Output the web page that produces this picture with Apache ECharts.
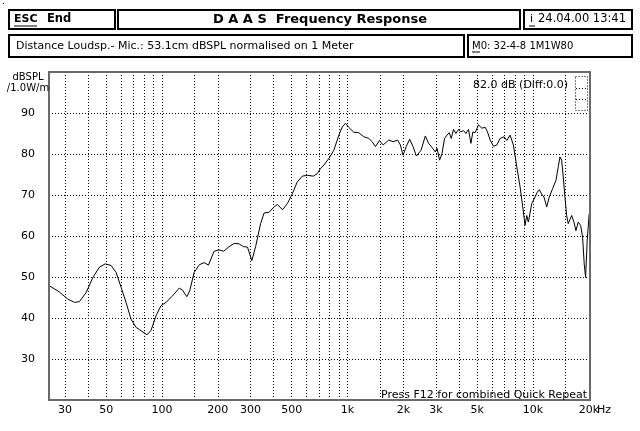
<!DOCTYPE html>
<html>
<head>
<meta charset="utf-8">
<script src="https://cdn.jsdelivr.net/npm/echarts@6/dist/echarts.min.js"></script>
<style>
html, body { margin: 0; padding: 0; background: #fff; }
#chart { width: 640px; height: 431px; }
</style>
</head>
<body>
<div id="chart"></div>
<script>
// frequency response: Hz and dBSPL
var freqs = [24.8, 27.5, 31.1, 33.8, 35.9, 39.0, 42.4, 46.0, 49.4, 53.2,
  56.6, 60.2, 64.0, 68.1, 72.5, 77.1, 83.0, 87.3, 92.8, 98.8,
  105, 114, 124, 129, 136, 141, 149, 159, 169, 178,
  191, 203, 215, 230, 245, 260, 275, 289, 305, 320,
  340, 355, 378, 402, 419, 446, 474, 504, 536, 571,
  607, 654, 687, 716, 746, 793, 844, 898, 937, 976,
  1016, 1081, 1150, 1223, 1302, 1358, 1414, 1486, 1556, 1667,
  1761, 1864, 1927, 1993, 2076, 2163, 2256, 2350, 2490, 2627,
  2736, 2854, 2973, 3037, 3136, 3230, 3336, 3436, 3535, 3623,
  3728, 3841, 3967, 4086, 4220, 4347, 4490, 4625, 4740, 4878,
  5080, 5300, 5521, 5681, 5874, 6119, 6380, 6646, 6984, 7221,
  7522, 7836, 8173, 8514, 8803, 9058, 9250, 9435, 9637, 9840,
  10251, 10546, 10812, 11139, 11459, 11850, 12236, 12763, 13296, 13677,
  13970, 14266, 14552, 14860, 15178, 15482, 16148, 16613, 17031, 17521,
  18053, 18504, 18874, 19203, 19587, 20080];
var levels = [47.8, 46.6, 44.6, 43.8, 44.0, 46.2, 49.9, 52.4, 53.2, 52.8,
  51.1, 47.5, 43.8, 39.7, 37.7, 36.9, 35.9, 37.0, 40.5, 43.0,
  43.8, 45.4, 47.3, 46.8, 45.2, 46.6, 51.1, 53.0, 53.5, 52.9,
  56.3, 56.6, 56.3, 57.4, 58.2, 58.1, 57.4, 57.3, 54.0, 57.5,
  63.0, 65.6, 65.8, 67.1, 67.7, 66.4, 67.9, 70.3, 73.2, 74.6,
  74.8, 74.6, 75.2, 76.5, 77.3, 78.9, 80.9, 84.6, 86.6, 87.5,
  86.5, 85.3, 85.2, 84.2, 83.8, 83.0, 81.8, 83.3, 82.2, 83.4,
  83.0, 83.4, 82.2, 79.7, 81.9, 83.6, 81.8, 79.5, 80.9, 84.4,
  82.6, 81.6, 80.5, 81.4, 78.5, 80.1, 83.8, 84.6, 85.2, 83.8,
  86.0, 85.0, 86.0, 85.4, 85.7, 85.0, 86.0, 82.6, 85.4, 85.2,
  87.1, 86.3, 86.5, 85.4, 83.4, 81.9, 82.2, 83.8, 84.2, 83.3,
  84.6, 82.2, 76.9, 72.0, 67.1, 62.6, 65.0, 63.4, 65.6, 67.9,
  69.5, 70.7, 71.3, 70.2, 69.5, 67.1, 69.5, 71.6, 73.6, 76.9,
  79.3, 78.5, 74.4, 69.5, 65.0, 63.0, 65.0, 63.4, 61.3, 63.4,
  62.6, 59.7, 53.2, 49.9, 58.9, 65.4];

// dotted grid positions and tick labels
var gridFreqs = [30, 40, 50, 60, 70, 80, 90, 100, 150, 200, 300, 400, 500, 600, 700, 800, 900,
  1000, 1500, 2000, 3000, 4000, 5000, 6000, 7000, 8000, 9000, 10000, 15000];
var labelFreqs = [30, 50, 100, 200, 300, 500, 1000, 2000, 3000, 5000, 10000, 20000];
var labelTexts = ['30', '50', '100', '200', '300', '500', '1k', '2k', '3k', '5k', '10k', '20k'];
var levelTicks = [30, 40, 50, 60, 70, 80, 90];

var FONT = "'DejaVu Sans', sans-serif";

var chart = echarts.init(document.getElementById('chart'));

var lg = function (f) { return Math.log10(f); };
var points = freqs.map(function (f, i) { return [lg(f), levels[i]]; });

function txt(x, y, s, font, align) {
  return {
    type: 'text', z: 110,
    style: { x: x, y: y, text: s, font: font || ('10px ' + FONT), fill: '#000',
      textAlign: align || 'left', textVerticalAlign: 'middle' }
  };
}
function box(x, y, w, h) {
  return { type: 'rect', z: 100, shape: { x: x, y: y, width: w, height: h },
    style: { fill: 'none', stroke: '#000', lineWidth: 2 } };
}
function hline(x1, x2, y, dash) {
  return { type: 'line', z: 110, shape: { x1: x1, y1: y, x2: x2, y2: y },
    style: { stroke: '#000', lineWidth: 1, lineDash: dash || null } };
}

chart.setOption({
  backgroundColor: '#fff',
  animation: false,
  grid: { left: 49, top: 72, width: 541, height: 328, containLabel: false },
  xAxis: {
    type: 'value',
    min: lg(24.6),
    max: lg(20280),
    axisLine: { show: false },
    axisTick: { show: false, customValues: gridFreqs.map(lg) },
    axisLabel: {
      customValues: labelFreqs.map(lg),
      margin: 5,
      color: '#000',
      fontSize: 11,
      fontFamily: FONT,
      formatter: function (v) {
        for (var i = 0; i < labelFreqs.length; i++) {
          if (Math.abs(lg(labelFreqs[i]) - v) < 1e-6) return labelTexts[i];
        }
        return '';
      }
    },
    splitLine: { show: true, lineStyle: { color: '#000', width: 1, type: [1, 2] } }
  },
  yAxis: {
    type: 'value',
    min: 20,
    max: 100,
    interval: 10,
    axisLine: { show: false },
    axisTick: { show: false, customValues: levelTicks },
    axisLabel: { customValues: levelTicks, margin: 14, color: '#000', fontSize: 11, fontFamily: FONT },
    splitLine: { show: true, lineStyle: { color: '#000', width: 1, type: [1, 2] } }
  },
  series: [{
    type: 'line',
    data: points,
    showSymbol: false,
    lineStyle: { color: '#000', width: 1 },
    z: 5
  }],
  graphic: [
    // header boxes
    box(9, 10, 106, 19),
    box(118, 10, 402, 19),
    box(524, 10, 108, 19),
    box(9, 35, 455, 22),
    box(468, 35, 164, 22),
    txt(14, 19.5, 'ESC', 'bold 11px ' + FONT),
    hline(14, 37, 26),
    txt(47, 19.5, 'End', 'bold 11.5px ' + FONT),
    txt(320, 19.5, 'D A A S  Frequency Response', 'bold 13px ' + FONT, 'center'),
    txt(530, 19.5, 'i', '11px ' + FONT),
    hline(529, 535, 26),
    txt(538, 19.5, '24.04.00 13:41', '11.5px ' + FONT),
    txt(16, 46, 'Distance Loudsp.- Mic.: 53.1cm dBSPL normalised on 1 Meter', '11px ' + FONT),
    txt(472, 46, 'M0: 32-4-8 1M1W80', '10px ' + FONT),
    hline(472, 480, 52),
    // axis captions and notes
    txt(28, 77, 'dBSPL', '10px ' + FONT, 'center'),
    txt(28, 88, '/1.0W/m', '10px ' + FONT, 'center'),
    txt(568, 85, '82.0 dB (Diff:0.0)', '11px ' + FONT, 'right'),
    txt(587, 395, 'Press F12 for combined Quick Repeat', '11px ' + FONT, 'right'),
    txt(597, 410, 'Hz', '11px ' + FONT),
    // small dotted indicator at top right
    { type: 'rect', z: 100, shape: { x: 575.5, y: 76.5, width: 12, height: 34 },
      style: { fill: 'none', stroke: '#000', lineWidth: 1, lineDash: [1, 2] } },
    hline(576, 588, 88.5, [1, 2]),
    hline(576, 588, 99.5, [1, 2]),
    // plot frame
    { type: 'rect', z: 100, shape: { x: 49, y: 72, width: 541, height: 328 },
      style: { fill: 'none', stroke: '#6a6a6a', lineWidth: 2 } },
    { type: 'rect', z: 100, shape: { x: 3, y: 3, width: 1, height: 1 }, style: { fill: '#000' } }
  ]
});
</script>
</body>
</html>
